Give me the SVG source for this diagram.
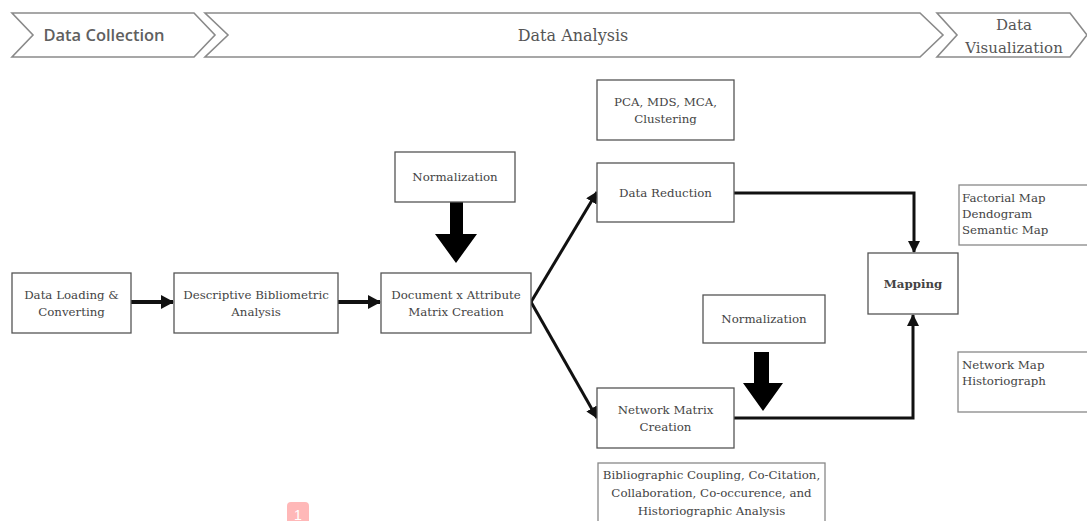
<svg xmlns="http://www.w3.org/2000/svg" width="1087" height="521" viewBox="0 0 1087 521">
  <style>
    .phase { fill: #ffffff; stroke: #8a8a8a; stroke-width: 1.6; }
    .phase-sans { font-family: "Open Sans", "Liberation Sans", sans-serif; font-size: 16.5px; font-weight: 600; fill: #606060; }
    .phase-serif { font-family: "DejaVu Serif", "Liberation Serif", serif; font-size: 16px; fill: #555555; }
    .box { fill: #ffffff; stroke: #555555; stroke-width: 1.3; }
    .note { fill: #ffffff; stroke: #888888; stroke-width: 1.3; }
    .lbl { font-family: "DejaVu Serif", "Liberation Serif", serif; font-size: 11.8px; fill: #444444; text-anchor: middle; }
    .lbl-l { font-family: "DejaVu Serif", "Liberation Serif", serif; font-size: 11.8px; fill: #444444; }
    .bold { font-weight: bold; }
    .link { fill: none; stroke: #111111; stroke-width: 3; }
    .flow { fill: none; stroke: #111111; stroke-width: 4; }
    .block { fill: #000000; }
  </style>
  <defs>
    <marker id="head" markerUnits="userSpaceOnUse" markerWidth="14" markerHeight="14" refX="12" refY="7" orient="auto">
      <path d="M0,0 L13,7 L0,14 Z" fill="#111111"/>
    </marker>
    <marker id="head-s" markerUnits="userSpaceOnUse" markerWidth="12" markerHeight="12" refX="11" refY="6" orient="auto">
      <path d="M0,0 L12,6 L0,12 Z" fill="#111111"/>
    </marker>
  </defs>

  <!-- phase banners -->
  <g id="phase-collection">
    <polygon class="phase" points="12,13 194,13 215,35 194,57 12,57 33,35"/>
    <text class="phase-sans" x="104" y="41" text-anchor="middle">Data Collection</text>
  </g>
  <g id="phase-analysis">
    <polygon class="phase" points="205,13 920,13 943,35 920,57 205,57 228,35"/>
    <text class="phase-serif" x="573" y="41" text-anchor="middle">Data Analysis</text>
  </g>
  <g id="phase-visualization">
    <polygon class="phase" points="937,13 1070,13 1087,35 1070,57 937,57 957,35"/>
    <text class="phase-serif" x="1014" y="30" text-anchor="middle" style="font-size:15px">Data</text>
    <text class="phase-serif" x="1014" y="53" text-anchor="middle" style="font-size:15px">Visualization</text>
  </g>

  <!-- connectors -->
  <g id="connectors">
    <line class="flow" x1="131" y1="302" x2="173" y2="302" marker-end="url(#head)"/>
    <line class="flow" x1="338" y1="302" x2="380" y2="302" marker-end="url(#head)"/>
    <line class="link" x1="531" y1="302" x2="597" y2="192" marker-end="url(#head-s)"/>
    <line class="link" x1="531" y1="302" x2="597" y2="418" marker-end="url(#head-s)"/>
    <polyline class="link" points="734,193 914,193 914,252" marker-end="url(#head-s)"/>
    <polyline class="link" points="734,418 913,418 913,315" marker-end="url(#head-s)"/>
    <!-- normalization block arrows -->
    <polygon class="block" points="450,202 463,202 463,234 477,234 456,263 435,234 450,234"/>
    <polygon class="block" points="754,352 769,352 769,383 783,383 763,411 743,383 754,383"/>
  </g>

  <!-- process nodes -->
  <g id="data-loading">
    <rect class="box" x="12" y="273" width="119" height="60"/>
    <text class="lbl" x="71.5" y="299">Data Loading &amp;</text>
    <text class="lbl" x="71.5" y="316">Converting</text>
  </g>
  <g id="descriptive-analysis">
    <rect class="box" x="174" y="273" width="164" height="60"/>
    <text class="lbl" x="256" y="299">Descriptive Bibliometric</text>
    <text class="lbl" x="256" y="316">Analysis</text>
  </g>
  <g id="normalization-1">
    <rect class="box" x="395" y="152" width="120" height="50"/>
    <text class="lbl" x="455" y="181">Normalization</text>
  </g>
  <g id="document-attribute">
    <rect class="box" x="381" y="273" width="150" height="60"/>
    <text class="lbl" x="456" y="299">Document x Attribute</text>
    <text class="lbl" x="456" y="316">Matrix Creation</text>
  </g>
  <g id="methods">
    <rect class="box" x="597" y="80" width="137" height="60"/>
    <text class="lbl" x="665.5" y="106">PCA, MDS, MCA,</text>
    <text class="lbl" x="665.5" y="123">Clustering</text>
  </g>
  <g id="data-reduction">
    <rect class="box" x="597" y="163" width="137" height="59"/>
    <text class="lbl" x="665.5" y="197">Data Reduction</text>
  </g>
  <g id="normalization-2">
    <rect class="box" x="703" y="295" width="122" height="48"/>
    <text class="lbl" x="764" y="323">Normalization</text>
  </g>
  <g id="network-matrix">
    <rect class="box" x="597" y="388" width="137" height="60"/>
    <text class="lbl" x="665.5" y="414">Network Matrix</text>
    <text class="lbl" x="665.5" y="431">Creation</text>
  </g>
  <g id="network-analyses">
    <rect class="note" x="598" y="463" width="227" height="64"/>
    <text class="lbl" x="711.5" y="479">Bibliographic Coupling, Co-Citation,</text>
    <text class="lbl" x="711.5" y="497">Collaboration, Co-occurence, and</text>
    <text class="lbl" x="711.5" y="515">Historiographic Analysis</text>
  </g>
  <g id="mapping">
    <rect class="box" x="868" y="253" width="90" height="61"/>
    <text class="lbl bold" x="913" y="288">Mapping</text>
  </g>
  <g id="factorial-outputs">
    <rect class="note" x="959" y="185" width="130" height="60"/>
    <text class="lbl-l" x="962" y="202">Factorial Map</text>
    <text class="lbl-l" x="962" y="218">Dendogram</text>
    <text class="lbl-l" x="962" y="234">Semantic Map</text>
  </g>
  <g id="network-outputs">
    <rect class="note" x="958" y="352" width="131" height="60"/>
    <text class="lbl-l" x="962" y="369">Network Map</text>
    <text class="lbl-l" x="962" y="385">Historiograph</text>
  </g>

  <!-- page badge -->
  <g id="badge">
    <rect x="287" y="502" width="22" height="24" rx="4" fill="#ffb8b8"/>
    <text x="298" y="520" text-anchor="middle" font-family="Liberation Sans, sans-serif" font-size="14" fill="#ffffff">1</text>
  </g>
</svg>
